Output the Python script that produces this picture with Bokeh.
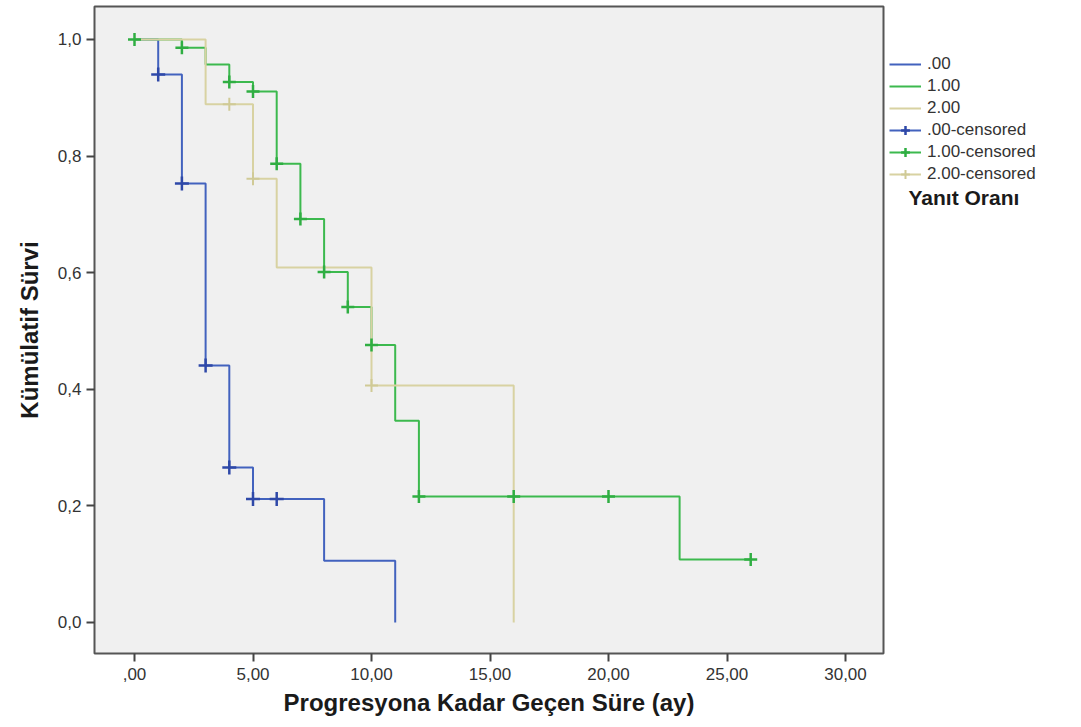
from bokeh.plotting import figure
from bokeh.layouts import row
from bokeh.models import FixedTicker, Legend, LegendItem, Label, Range1d
from bokeh.embed import file_html
from bokeh.resources import INLINE

# ---- data ----
g0_time = [0, 1, 2, 3, 4, 5, 8, 11]
g0_surv = [1.0, 0.94, 0.753, 0.441, 0.266, 0.212, 0.106, 0.0]
g0_cens_time = [1, 2, 3, 4, 5, 6]
g0_cens_surv = [0.94, 0.753, 0.441, 0.266, 0.212, 0.212]

g1_time = [0, 2, 3, 4, 5, 6, 7, 8, 9, 10, 11, 12, 23, 26]
g1_surv = [1.0, 0.986, 0.957, 0.927, 0.911, 0.787, 0.692, 0.601, 0.541, 0.476, 0.346, 0.216, 0.108, 0.108]
g1_cens_time = [0, 2, 4, 5, 6, 7, 8, 9, 10, 12, 16, 20, 26]
g1_cens_surv = [1.0, 0.986, 0.927, 0.911, 0.787, 0.692, 0.601, 0.541, 0.476, 0.216, 0.216, 0.216, 0.108]

g2_time = [0, 3, 5, 6, 10, 16]
g2_surv = [1.0, 0.889, 0.761, 0.609, 0.4065, 0.0]
g2_cens_time = [4, 5, 10]
g2_cens_surv = [0.889, 0.761, 0.4065]

x_ticks = [0, 5, 10, 15, 20, 25, 30]
x_tick_labels = [",00", "5,00", "10,00", "15,00", "20,00", "25,00", "30,00"]
y_ticks = [0.0, 0.2, 0.4, 0.6, 0.8, 1.0]
y_tick_labels = ["0,0", "0,2", "0,4", "0,6", "0,8", "1,0"]

group_labels = [".00", "1.00", "2.00"]
legend_title = "Yanıt Oranı"
x_title = "Progresyona Kadar Geçen Süre (ay)"
y_title = "Kümülatif Sürvi"

# ---- styling ----
C_BLUE = "#4262BE"
C_GREEN = "#3CB94E"
C_TAN = "#D8D2A2"
CC_BLUE = "#2E48A8"
CC_GREEN = "#2FAE42"
CC_TAN = "#D0CA96"
FONT = "Liberation Sans"

H = 720
W1 = 885
W2 = 190
FRAME_TOP = 6
FRAME_BOTTOM = 653

p = figure(width=W1, height=H, output_backend="svg", toolbar_location=None,
           x_range=Range1d(-1.688, 31.603), y_range=Range1d(-0.0532, 1.0566),
           min_border_left=94, min_border_right=W1 - 883, min_border_top=FRAME_TOP,
           min_border_bottom=H - FRAME_BOTTOM)

p.background_fill_color = "#F0F0F0"
p.border_fill_color = "white"
p.outline_line_color = "#555555"
p.outline_line_width = 2
p.grid.visible = False

p.xaxis.ticker = FixedTicker(ticks=x_ticks)
p.xaxis.major_label_overrides = dict(zip(x_ticks, x_tick_labels))
p.yaxis.ticker = FixedTicker(ticks=y_ticks)
p.yaxis.major_label_overrides = dict(zip(y_ticks, y_tick_labels))
for ax in (p.xaxis, p.yaxis):
    ax.axis_line_color = None
    ax.major_tick_in = 0
    ax.major_tick_out = 8
    ax.major_tick_line_color = "#444444"
    ax.major_tick_line_width = 2
    ax.minor_tick_line_color = None
    ax.major_label_text_font = FONT
    ax.major_label_text_font_size = "17px"
    ax.major_label_text_color = "#333333"
    ax.axis_label_text_font = FONT
    ax.axis_label_text_font_style = "bold"
    ax.axis_label_text_font_size = "24px"
    ax.axis_label_text_color = "#1a1a1a"
p.xaxis.major_label_standoff = 6
p.yaxis.major_label_standoff = 5
p.xaxis.axis_label = x_title
p.yaxis.axis_label = y_title
p.xaxis.axis_label_standoff = 6
p.yaxis.axis_label_standoff = 12


def draw(fig):
    r0 = fig.step(g0_time, g0_surv, mode="after", line_color=C_BLUE, line_width=2)
    r1 = fig.step(g1_time, g1_surv, mode="after", line_color=C_GREEN, line_width=2)
    r2 = fig.step(g2_time, g2_surv, mode="after", line_color=C_TAN, line_width=2)
    c0 = fig.scatter(g0_cens_time, g0_cens_surv, marker="cross", size=14, line_color=CC_BLUE, line_width=2.5)
    c1 = fig.scatter(g1_cens_time, g1_cens_surv, marker="cross", size=13, line_color=CC_GREEN, line_width=2.5)
    c2 = fig.scatter(g2_cens_time, g2_cens_surv, marker="cross", size=13, line_color=CC_TAN, line_width=2)
    return (r0, r1, r2), (c0, c1, c2)


draw(p)

# ---- legend panel (separate figure to the right, same series drawn off-view) ----
q = figure(width=W2, height=H, output_backend="svg", toolbar_location=None,
           x_range=Range1d(-300, -200), y_range=Range1d(-300, -200),
           x_axis_location=None, y_axis_location=None, min_border=0)
q.outline_line_color = None
q.background_fill_color = "white"
q.border_fill_color = "white"
q.grid.visible = False

(r0, r1, r2), (c0, c1, c2) = draw(q)
items = [
    LegendItem(label=group_labels[0], renderers=[r0]),
    LegendItem(label=group_labels[1], renderers=[r1]),
    LegendItem(label=group_labels[2], renderers=[r2]),
    LegendItem(label=group_labels[0] + "-censored", renderers=[r0, c0]),
    LegendItem(label=group_labels[1] + "-censored", renderers=[r1, c1]),
    LegendItem(label=group_labels[2] + "-censored", renderers=[r2, c2]),
]
# the frame of this panel is aligned with the main plot frame (6..653)
legend = Legend(items=items, location=(4, FRAME_BOTTOM - 185), orientation="vertical",
                glyph_width=32, glyph_height=22, label_height=22, spacing=0,
                padding=5, margin=0, label_standoff=6,
                label_text_font=FONT, label_text_font_size="17px", label_text_color="#333333",
                border_line_color=None, background_fill_alpha=0)
q.add_layout(legend, "center")

title_lbl = Label(x=23, y=FRAME_BOTTOM - 197, x_units="screen", y_units="screen",
                  text=legend_title, text_font=FONT,
                  text_font_style="bold", text_font_size="21px", text_color="#1a1a1a",
                  text_baseline="middle", text_align="left")
q.add_layout(title_lbl)

layout = row(p, q, spacing=0)
open("out.html", "w").write(file_html(layout, INLINE))
